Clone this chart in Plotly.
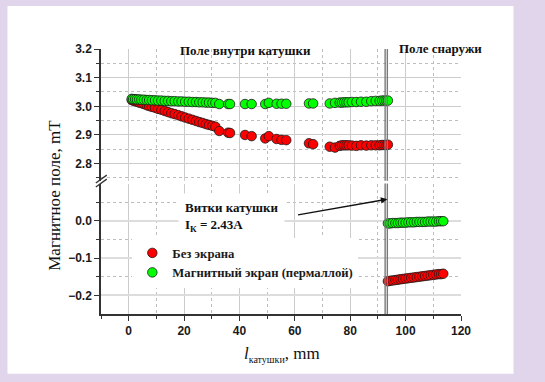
import plotly.graph_objects as go

# ---------------- data ----------------
x_in = [1.1, 1.6, 2.3, 3.0, 3.8, 4.6, 5.5, 6.5, 7.4, 8.4, 9.5, 10.6, 11.8, 13.0, 14.2,
        15.4, 16.6, 17.9, 19.1, 20.4, 21.7, 23.0, 24.3, 25.5, 26.7, 27.9, 29.0, 30.2,
        31.3, 32.7, 35.9, 36.6, 42.0, 44.4, 49.3, 50.6, 53.4, 55.2, 56.9, 65.1, 66.6,
        72.6, 74.5, 76.2, 77.0, 77.8, 78.6, 79.4, 80.6, 82.2, 83.9, 85.8, 87.6, 89.2,
        90.6, 91.5, 92.3, 93.0, 93.6]
red_in = [3.022, 3.020, 3.018, 3.016, 3.013, 3.011, 3.008, 3.004, 3.001, 2.998, 2.995,
          2.991, 2.988, 2.984, 2.980, 2.976, 2.973, 2.969, 2.965, 2.961, 2.957, 2.953,
          2.949, 2.945, 2.942, 2.938, 2.935, 2.932, 2.929, 2.914, 2.908, 2.907, 2.900,
          2.896, 2.888, 2.896, 2.886, 2.883, 2.882, 2.871, 2.868, 2.859, 2.856, 2.862,
          2.864, 2.864, 2.864, 2.864, 2.863, 2.862, 2.864, 2.863, 2.864, 2.864, 2.864,
          2.865, 2.865, 2.865, 2.866]
green_in = [3.026, 3.025, 3.025, 3.024, 3.024, 3.023, 3.023, 3.022, 3.022, 3.021, 3.021,
            3.020, 3.020, 3.019, 3.019, 3.018, 3.018, 3.017, 3.017, 3.016, 3.016, 3.015,
            3.015, 3.014, 3.014, 3.013, 3.013, 3.012, 3.012, 3.008, 3.008, 3.008, 3.008,
            3.008, 3.008, 3.012, 3.009, 3.009, 3.009, 3.010, 3.010, 3.010, 3.012, 3.013,
            3.013, 3.014, 3.014, 3.014, 3.015, 3.015, 3.016, 3.016, 3.018, 3.019, 3.019,
            3.020, 3.020, 3.020, 3.020]

x_out = [93.6, 94.4, 95.3, 96.3, 97.2, 98.1, 99.0, 100.0, 101.0, 102.0, 103.0, 104.0,
         105.0, 106.0, 107.0, 108.0, 109.0, 110.0, 111.0, 112.0, 112.8, 113.6]
red_out = [-0.162, -0.161, -0.160, -0.159, -0.158, -0.157, -0.156, -0.155, -0.154, -0.153,
           -0.152, -0.151, -0.150, -0.149, -0.148, -0.147, -0.146, -0.145, -0.144, -0.143,
           -0.143, -0.142]
green_out = [-0.007, -0.007, -0.006, -0.006, -0.006, -0.005, -0.005, -0.005, -0.004,
             -0.004, -0.004, -0.003, -0.003, -0.003, -0.003, -0.002, -0.002, -0.002,
             -0.002, -0.001, -0.001, -0.001]

coil_edges = [92.6, 93.4]
x_ticks = [0, 20, 40, 60, 80, 100, 120]
y_up_ticks = [2.8, 2.9, 3.0, 3.1, 3.2]
y_low_ticks = [-0.2, -0.1, 0.0]

name_red = "Без экрана"
name_green = "Магнитный экран (пермаллой)"

# ---------------- figure ----------------
RED = "#ff0000"
GREEN = "#00ff00"
mk = dict(size=9.5, line=dict(color="#1a1a1a", width=0.8))

fig = go.Figure()
fig.add_trace(go.Scatter(x=x_in, y=red_in, mode="markers", name=name_red,
                         marker=dict(color=RED, **mk), xaxis="x", yaxis="y2"))
fig.add_trace(go.Scatter(x=x_in, y=green_in, mode="markers", name=name_green,
                         marker=dict(color=GREEN, **mk), xaxis="x", yaxis="y2"))
fig.add_trace(go.Scatter(x=x_out, y=red_out, mode="markers", name=name_red, showlegend=False,
                         marker=dict(color=RED, **mk), xaxis="x", yaxis="y"))
fig.add_trace(go.Scatter(x=x_out, y=green_out, mode="markers", name=name_green, showlegend=False,
                         marker=dict(color=GREEN, **mk), xaxis="x", yaxis="y"))

tickfont = dict(family="Liberation Sans", size=12, color="#1a1a1a", weight="bold")
GRID = "#cccccc"
MINORGRID = "#bdbdbd"
AX = "#333333"

fig.update_layout(
    width=545, height=382,
    margin=dict(l=101, r=84, t=49, b=68),
    paper_bgcolor="#e0d5eb",
    plot_bgcolor="white",
    showlegend=True,
    xaxis=dict(range=[-10, 120], tickvals=x_ticks, anchor="y",
               showline=True, linecolor=AX, linewidth=1.5,
               ticks="outside", ticklen=5, tickwidth=1.2, tickcolor=AX,
               showgrid=True, gridcolor=GRID, gridwidth=1, zeroline=False,
               tickfont=tickfont,
               minor=dict(dtick=10, tick0=0, ticks="outside", ticklen=3, tickcolor=AX,
                          showgrid=True, gridcolor=MINORGRID, griddash="dot", gridwidth=1)),
    yaxis=dict(domain=[0, 0.4923], range=[-0.25, 0.1], tickvals=y_low_ticks,
               tickformat=".1f", showline=True, linecolor=AX, linewidth=1.5,
               ticks="outside", ticklen=5, tickwidth=1.2, tickcolor=AX,
               showgrid=True, gridcolor="#dddddd", gridwidth=1.5, zeroline=False,
               tickfont=tickfont,
               minor=dict(tickvals=[0.05, -0.05, -0.15], ticks="outside", ticklen=3,
                          tickcolor=AX, showgrid=True, gridcolor=MINORGRID,
                          griddash="dot", gridwidth=1)),
    yaxis2=dict(domain=[0.5025, 1], range=[2.74, 3.2], tickvals=y_up_ticks,
                tickformat=".1f", anchor="x", showline=True, linecolor=AX, linewidth=1.5,
                ticks="outside", ticklen=5, tickwidth=1.2, tickcolor=AX,
                showgrid=True, gridcolor=GRID, gridwidth=1, zeroline=False,
                tickfont=tickfont,
                minor=dict(tickvals=[2.75, 2.85, 2.95, 3.05, 3.15], ticks="outside",
                           ticklen=3, tickcolor=AX, showgrid=True, gridcolor=MINORGRID,
                           griddash="dot", gridwidth=1)),
    legend=dict(x=0.087, y=0.192, xanchor="left", yanchor="middle",
                bgcolor="white", borderwidth=0,
                font=dict(family="Liberation Serif", size=12.7, color="#1a1a1a", weight="bold"),
                itemwidth=30, tracegroupgap=0),
)

# white inner panel of the picture
shapes = [dict(type="rect", xref="paper", yref="paper", x0=-0.2598, x1=1.1458,
               y0=-0.225, y1=1.162, fillcolor="white", line=dict(width=0), layer="below")]
# double vertical lines marking coil windings
for xe in coil_edges:
    for yr in ["y domain", "y2 domain"]:
        shapes.append(dict(type="line", xref="x", yref=yr, x0=xe, x1=xe, y0=0, y1=1,
                           line=dict(color="#7a7a7a", width=1.4), layer="above"))
# axis break marks
shapes.append(dict(type="line", xref="paper", yref="paper", x0=-0.0144, x1=0.016,
                   y0=0.494, y1=0.524, line=dict(color=AX, width=1.3)))
shapes.append(dict(type="line", xref="paper", yref="paper", x0=-0.0144, x1=0.016,
                   y0=0.479, y1=0.509, line=dict(color=AX, width=1.3)))
fig.update_layout(shapes=shapes)

serif_b = dict(family="Liberation Serif", size=13, color="#111111", weight="bold")
ann = [
    dict(text="Поле внутри катушки", x=42.1, y=0.9925, xref="x", yref="paper",
         xanchor="center", yanchor="middle", showarrow=False, font=serif_b),
    dict(text="Поле снаружи", x=0.944, y=1.0026, xref="paper", yref="paper",
         xanchor="center", yanchor="middle", showarrow=False, font=serif_b),
    dict(text="", x=93.4, y=0.058, xref="x", yref="y", ax=60.6, ay=0.015,
         axref="x", ayref="y", showarrow=True, arrowhead=2, arrowsize=1.0,
         arrowwidth=1.3, arrowcolor="#111111"),
    dict(text="Витки катушки<br>I<sub>К</sub> = 2.43A", x=17.9, y=0.0099, xref="x",
         yref="y", xanchor="left", yanchor="middle", align="left", showarrow=False,
         font=dict(family="Liberation Serif", size=13, color="#111111", weight="bold"),
         bgcolor="white", borderpad=6),
    dict(text="Магнитное поле, mT", x=-0.13, y=0.447, xref="paper", yref="paper",
         textangle=-90, showarrow=False, xanchor="center", yanchor="middle",
         font=dict(family="Liberation Serif", size=17, color="#111111")),
    dict(text="<i>l</i><sub><span style=\"font-size:10px\">катушки</span></sub>, mm",
         x=0.5026, y=-0.153, xref="paper",
         yref="paper", showarrow=False, xanchor="center", yanchor="middle",
         font=dict(family="Liberation Serif", size=17, color="#111111")),
]
fig.update_layout(annotations=ann)

fig.write_html("out.html", config={"displayModeBar": False},
               post_script="document.body.style.margin='0';")
